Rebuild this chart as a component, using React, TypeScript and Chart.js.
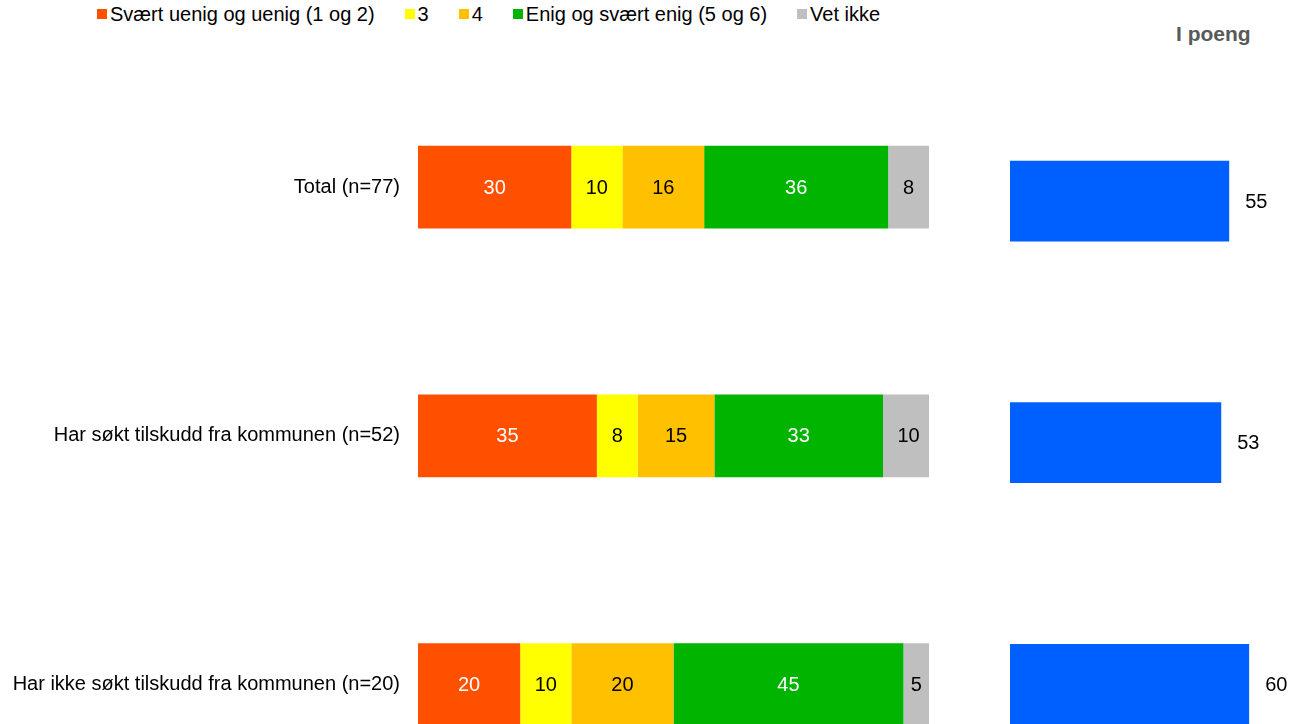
import React, { useEffect, useRef } from "react";
import { Chart, registerables } from "chart.js";

Chart.register(...registerables);

const FONT = '"Liberation Sans", Arial, Helvetica, sans-serif';

const categories = [
  "Total (n=77)",
  "Har søkt tilskudd fra kommunen (n=52)",
  "Har ikke søkt tilskudd fra kommunen (n=20)",
];
const seriesNames = [
  "Svært uenig og uenig (1 og 2)",
  "3",
  "4",
  "Enig og svært enig (5 og 6)",
  "Vet ikke",
];
const disagree = [30, 35, 20];
const three = [10, 8, 10];
const four = [16, 15, 20];
const agree = [36, 33, 45];
const dontKnow = [8, 10, 5];
const points = [55, 53, 60];
const pointsTitle = "I poeng";

const seriesColors = ["#FF5000", "#FFFF00", "#FFC000", "#00B400", "#BFBFBF"];
const labelColors = ["#FFFFFF", "#000000", "#000000", "#FFFFFF", "#000000"];
const pointsColor = "#0060FF";

const seriesValues = [disagree, three, four, agree, dontKnow];

const insideLabels = {
  id: "insideLabels",
  afterDatasetsDraw(chart: any) {
    const ctx = chart.ctx;
    ctx.save();
    ctx.font = `20px ${FONT}`;
    ctx.textAlign = "center";
    ctx.textBaseline = "middle";
    chart.data.datasets.forEach((ds: any, i: number) => {
      const meta = chart.getDatasetMeta(i);
      meta.data.forEach((bar: any, j: number) => {
        const p = bar.getProps(["x", "y", "base"], true);
        ctx.fillStyle = labelColors[i];
        ctx.fillText(String(ds.data[j]), (p.x + p.base) / 2, p.y + 1);
      });
    });
    ctx.restore();
  },
};

const endLabels = {
  id: "endLabels",
  afterDatasetsDraw(chart: any) {
    const ctx = chart.ctx;
    ctx.save();
    ctx.font = `20px ${FONT}`;
    ctx.textAlign = "left";
    ctx.textBaseline = "middle";
    ctx.fillStyle = "#000000";
    chart.data.datasets.forEach((ds: any, i: number) => {
      const meta = chart.getDatasetMeta(i);
      meta.data.forEach((bar: any, j: number) => {
        const p = bar.getProps(["x", "y"], true);
        ctx.fillText(String(ds.data[j]), p.x + 16, p.y + 1);
      });
    });
    ctx.restore();
  },
};

export default function App() {
  const leftRef = useRef<HTMLCanvasElement | null>(null);
  const rightRef = useRef<HTMLCanvasElement | null>(null);

  useEffect(() => {
    const left = new Chart(leftRef.current as HTMLCanvasElement, {
      type: "bar",
      data: {
        labels: categories,
        datasets: seriesNames.map((name, i) => ({
          label: name,
          data: seriesValues[i],
          backgroundColor: seriesColors[i],
          borderWidth: 0,
          barPercentage: 0.333,
          categoryPercentage: 1,
        })),
      },
      options: {
        indexAxis: "y",
        responsive: false,
        maintainAspectRatio: false,
        animation: false,
        layout: { padding: { top: 62.8, right: 11, bottom: 0, left: 0 } },
        plugins: { legend: { display: false }, tooltip: { enabled: false } },
        scales: {
          x: { stacked: true, display: false, min: 0, max: 100 },
          y: {
            stacked: true,
            grid: { display: false, drawTicks: false },
            border: { display: false },
            ticks: { font: { size: 20, family: FONT }, color: "#000000", padding: 18 },
            afterFit: (s: any) => {
              s.width = 418;
            },
          },
        },
      },
      plugins: [insideLabels],
    } as any);

    const right = new Chart(rightRef.current as HTMLCanvasElement, {
      type: "bar",
      data: {
        labels: categories,
        datasets: [
          {
            label: pointsTitle,
            data: points,
            backgroundColor: pointsColor,
            borderWidth: 0,
            barPercentage: 0.334,
            categoryPercentage: 1,
          },
        ],
      },
      options: {
        indexAxis: "y",
        responsive: false,
        maintainAspectRatio: false,
        animation: false,
        layout: { padding: { top: 80.3, right: 2, bottom: 0, left: 0 } },
        plugins: { legend: { display: false }, tooltip: { enabled: false } },
        scales: {
          x: { display: false, min: 0, max: 70 },
          y: { display: false },
        },
      },
      plugins: [endLabels],
    } as any);

    return () => {
      left.destroy();
      right.destroy();
    };
  }, []);

  const legendItems = seriesNames.map((name, i) => (
    <div key={name} style={{ display: "flex", alignItems: "center", marginRight: 30 }}>
      <span
        style={{
          display: "inline-block",
          width: 10,
          height: 10,
          background: seriesColors[i],
          marginRight: 3,
        }}
      />
      <span>{name}</span>
    </div>
  ));

  return (
    <div
      style={{
        position: "fixed",
        left: 0,
        top: 0,
        width: 1291,
        height: 724,
        overflow: "hidden",
        background: "#ffffff",
        fontFamily: FONT,
      }}
    >
      <div
        style={{
          position: "absolute",
          left: 97,
          top: 4,
          display: "flex",
          fontSize: 20,
          lineHeight: "20px",
          color: "#000000",
          whiteSpace: "nowrap",
        }}
      >
        {legendItems}
      </div>
      <div
        style={{
          position: "absolute",
          left: 1176,
          top: 22,
          fontSize: 21,
          fontWeight: "bold",
          color: "#595959",
          lineHeight: "24px",
          whiteSpace: "nowrap",
        }}
      >
        {pointsTitle}
      </div>
      <canvas
        ref={leftRef}
        width={940}
        height={839}
        style={{ position: "absolute", left: 0, top: 0, width: 940, height: 839 }}
      />
      <canvas
        ref={rightRef}
        width={281}
        height={805}
        style={{ position: "absolute", left: 1010, top: 0, width: 281, height: 805 }}
      />
    </div>
  );
}
